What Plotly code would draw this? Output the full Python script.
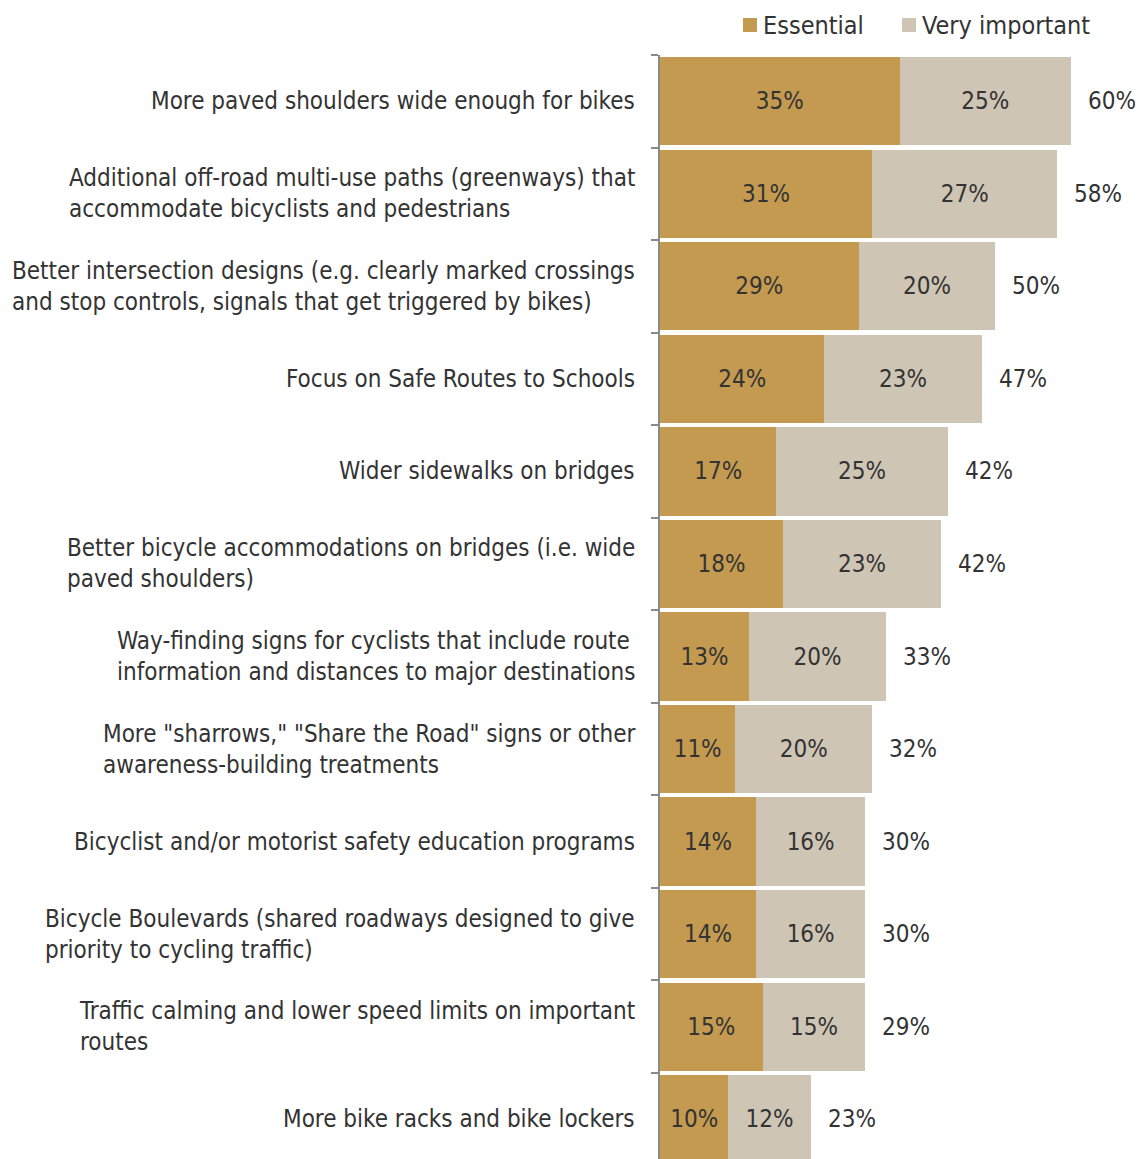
import plotly.graph_objects as go

categories = [
    "More paved shoulders wide enough for bikes",
    "Additional off-road multi-use paths (greenways) that<br>accommodate bicyclists and pedestrians",
    "Better intersection designs (e.g. clearly marked crossings<br>and stop controls, signals that get triggered by bikes)",
    "Focus on Safe Routes to Schools",
    "Wider sidewalks on bridges",
    "Better bicycle accommodations on bridges (i.e. wide<br>paved shoulders)",
    "Way-finding signs for cyclists that include route<br>information and distances to major destinations",
    "More \"sharrows,\" \"Share the Road\" signs or other<br>awareness-building treatments",
    "Bicyclist and/or motorist safety education programs",
    "Bicycle Boulevards (shared roadways designed to give<br>priority to cycling traffic)",
    "Traffic calming and lower speed limits on important<br>routes",
    "More bike racks and bike lockers",
]
essential = [35, 31, 29, 24, 17, 18, 13, 11, 14, 14, 15, 10]
very_important = [25, 27, 20, 23, 25, 23, 20, 20, 16, 16, 15, 12]
totals = [60, 58, 50, 47, 42, 42, 33, 32, 30, 30, 29, 23]
series_names = ["Essential", "Very important"]

C_ESS = "#C49A50"
C_VI = "#CFC5B5"
TXT = "#333333"
FONT = "Liberation Sans Narrow, DejaVu Sans Condensed, Arial Narrow, sans-serif"

ids = list(range(len(categories)))

fig = go.Figure()
fig.add_trace(go.Bar(
    y=ids, x=essential, orientation="h", name=series_names[0],
    marker=dict(color=C_ESS, line=dict(width=0)),
    text=[f"{v}%" for v in essential], textposition="inside",
    insidetextanchor="middle", textfont=dict(size=24, color=TXT, family=FONT),
    showlegend=False,
))
fig.add_trace(go.Bar(
    y=ids, x=very_important, orientation="h", name=series_names[1],
    marker=dict(color=C_VI, line=dict(width=0)),
    text=[f"{v}%" for v in very_important], textposition="inside",
    insidetextanchor="middle", textfont=dict(size=24, color=TXT, family=FONT),
    showlegend=False,
))

annotations = []
for i, (e, v, t) in enumerate(zip(essential, very_important, totals)):
    annotations.append(dict(
        x=e + v, y=i, xref="x", yref="y", text=f"{t}%", showarrow=False,
        xanchor="left", xshift=15, font=dict(size=24, color=TXT, family=FONT),
    ))
    annotations.append(dict(
        x=0, y=i, xref="paper", yref="y", text=categories[i], showarrow=False,
        xanchor="right", align="left", xshift=-23,
        font=dict(size=24, color=TXT, family=FONT),
    ))

# legend (manual)
shapes = []
leg = [(series_names[0], C_ESS, 83), (series_names[1], C_VI, 242)]
for name, col, xs in leg:
    shapes.append(dict(
        type="rect", xref="paper", yref="paper", xsizemode="pixel", ysizemode="pixel",
        xanchor=0, yanchor=1, x0=xs, x1=xs + 14, y0=23, y1=37,
        fillcolor=col, line=dict(width=0),
    ))
    annotations.append(dict(
        x=0, y=1, xref="paper", yref="paper", text=name, showarrow=False,
        xanchor="left", yanchor="middle", xshift=xs + 18, yshift=30,
        font=dict(size=25, color=TXT, family=FONT),
    ))

fig.update_layout(
    width=1142, height=1159,
    margin=dict(l=660, r=0, t=54.5, b=0),
    paper_bgcolor="white", plot_bgcolor="white",
    barmode="stack", bargap=0.046,
    shapes=shapes, annotations=annotations,
    xaxis=dict(range=[0, 70.4], visible=False, fixedrange=True),
    yaxis=dict(
        type="linear", range=[11.43, -0.5], showticklabels=False,
        tickmode="array", tickvals=[i - 0.5 for i in range(13)],
        ticks="outside", ticklen=7, tickwidth=1.5, tickcolor="#8a8a8a",
        showline=True, linecolor="#8a8a8a", linewidth=1.5,
        showgrid=False, zeroline=False,
    ),
)

fig.write_html("out.html")
